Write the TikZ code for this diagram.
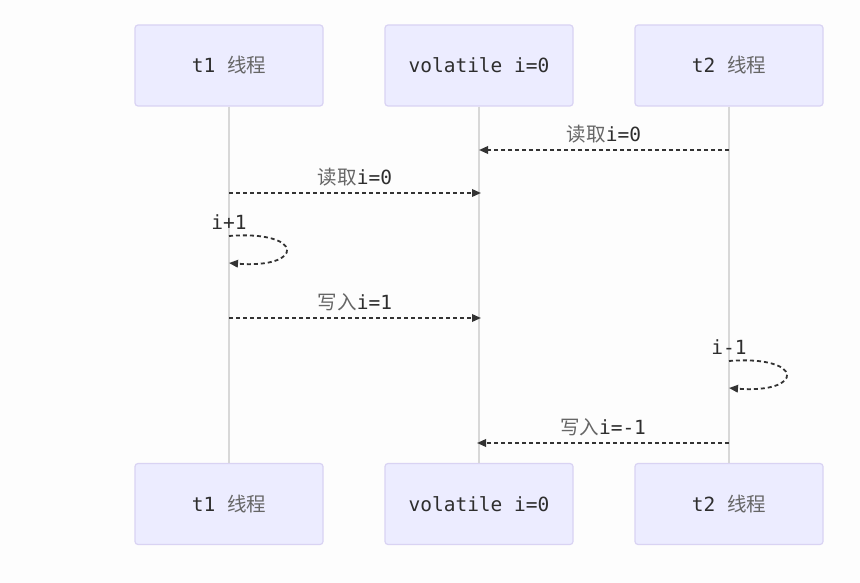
\documentclass[tikz,border=0pt]{standalone}
\usepackage{fontspec}
\setmonofont{DejaVu Sans Mono}
\newfontfamily\cjk{Noto Sans CJK SC}
\usetikzlibrary{arrows.meta}
\definecolor{boxfill}{HTML}{ECECFF}
\definecolor{boxline}{HTML}{D9D3F3}
\definecolor{lifeline}{HTML}{D8D8D8}
\definecolor{msgline}{HTML}{333333}
\definecolor{txt}{HTML}{2E2E2E}
\definecolor{cjkgray}{HTML}{666666}
\definecolor{bg}{HTML}{FDFDFD}
\newcommand\zh[1]{{\cjk\color{cjkgray}#1}}
\begin{document}
\begin{tikzpicture}[x=1pt,y=-1pt,
  actor/.style={draw=boxline, line width=1.2pt, fill=boxfill, rounded corners=3pt,
    minimum width=188pt, minimum height=81pt, inner sep=0pt,
    font=\fontsize{19.5}{22}\ttfamily, text=txt},
  life/.style={draw=lifeline, line width=1.6pt},
  msg/.style={draw=msgline, line width=1.8pt, dash pattern=on 4pt off 3pt,
    -{Triangle[length=9pt,width=7.5pt]}},
  lbl/.style={font=\fontsize{19.5}{22}\ttfamily, text=txt, inner sep=0pt}]
\fill[bg] (0,0) rectangle (860,583);
\useasboundingbox (0,0) rectangle (860,583);
% actors
\node[actor] (t1top)  at (229,65.5) {t1 \zh{线程}};
\node[actor] (vtop)   at (479,65.5) {volatile i=0};
\node[actor] (t2top)  at (729,65.5) {t2 \zh{线程}};
\node[actor] (t1bot)  at (229,504) {t1 \zh{线程}};
\node[actor] (vbot)   at (479,504) {volatile i=0};
\node[actor] (t2bot)  at (729,504) {t2 \zh{线程}};
% lifelines
\draw[life] (t1top.south) -- (t1bot.north);
\draw[life] (vtop.south) -- (vbot.north);
\draw[life] (t2top.south) -- (t2bot.north);
% message anchors
\coordinate (a1) at (729,150); \coordinate (b1) at (479,150);
\coordinate (a2) at (229,193); \coordinate (b2) at (481,193);
\coordinate (l1s) at (229,236); \coordinate (l1e) at (229,263);
\coordinate (a4) at (229,318); \coordinate (b4) at (481,318);
\coordinate (l2s) at (729,361); \coordinate (l2e) at (729,388);
\coordinate (a6) at (729,443); \coordinate (b6) at (477,443);
% messages
\draw[msg] (a1) -- (b1) node[lbl, midway, above=6pt] {\zh{读取}i=0};
\draw[msg] (a2) -- (b2) node[lbl, midway, above=6pt] {\zh{读取}i=0};
\draw[msg] (l1s) .. controls (305,230) and (305,269) .. (l1e);
\node[lbl] (s1) at (229,222) {i+1};
\draw[msg] (a4) -- (b4) node[lbl, midway, above=6pt] {\zh{写入}i=1};
\draw[msg] (l2s) .. controls (805,355) and (805,394) .. (l2e);
\node[lbl] (s2) at (729,347) {i-1};
\draw[msg] (a6) -- (b6) node[lbl, midway, above=6pt] {\zh{写入}i=-1};
\end{tikzpicture}
\end{document}
